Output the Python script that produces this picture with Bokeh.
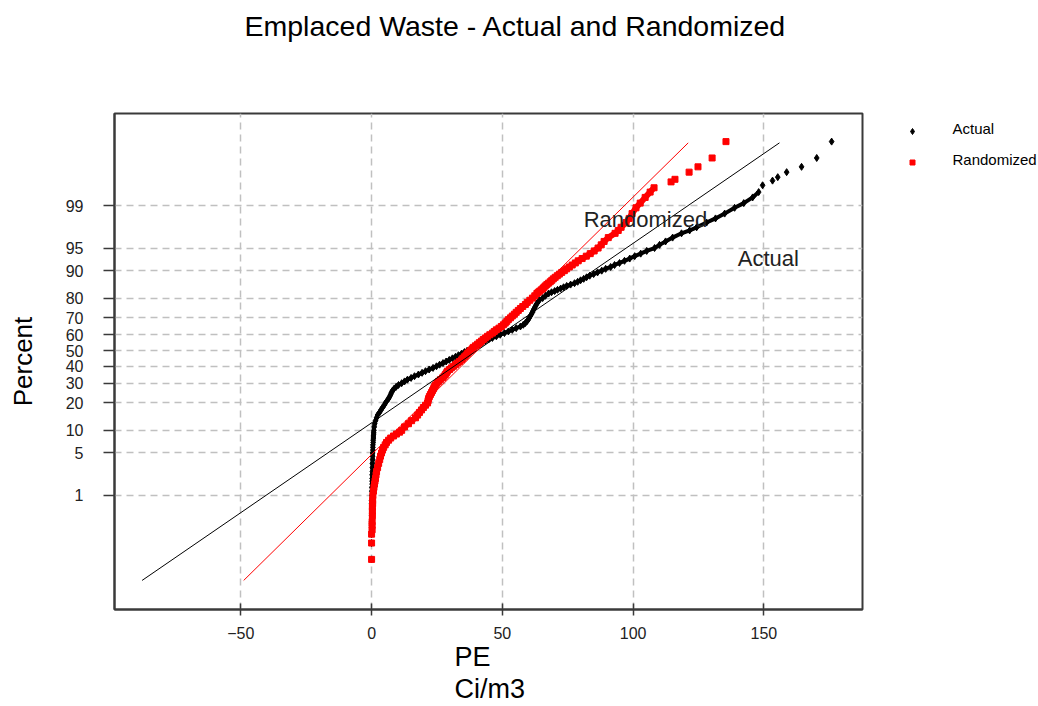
from statistics import NormalDist
from bokeh.plotting import figure
from bokeh.layouts import row
from bokeh.models import Range1d, FixedTicker, Label, Title
from bokeh.core.properties import value
from bokeh.embed import file_html
from bokeh.resources import INLINE

FONT = "Liberation Sans"

# ---------------- data ----------------
pe_ticks = [-50, 0, 50, 100, 150]
pct_ticks = [1, 5, 10, 20, 30, 40, 50, 60, 70, 80, 90, 95, 99]
series_names = ["Actual", "Randomized"]
series_colors = ["black", "#ff0000"]
series_markers = ["diamond", "square"]

actual_pct = [0.04, 0.1, 0.16, 0.2, 0.25, 0.3, 0.4, 0.5, 0.6, 0.7, 0.8,
              1, 1.2, 1.4, 1.6, 1.8, 2, 2.3, 2.6, 3, 3.5, 4, 4.5, 5, 5.5, 6, 6.5,
              7, 7.5, 8, 8.5, 9, 9.5, 10, 11, 12, 13, 14, 15, 16, 17, 18, 19, 20,
              21, 22, 23, 24, 25, 26, 27, 28, 29, 30, 31, 32, 33, 34, 35, 36, 37,
              38, 39, 40, 41, 42, 43, 44, 45, 46, 47, 48, 49, 50, 51, 52, 53, 54,
              55, 56, 57, 58, 59, 60, 61, 62, 63, 64, 65, 66, 67, 68, 69, 70, 71,
              72, 73, 74, 75, 76, 77, 78, 79, 80, 81, 82, 82.5, 83, 83.5, 84, 84.5,
              85, 85.5, 86, 86.5, 87, 87.5, 88, 88.5, 89, 89.5, 90, 90.5, 91, 91.5,
              92, 92.5, 93, 93.5, 94, 94.5, 95, 95.5, 96, 96.5, 97, 97.3, 97.6, 98,
              98.3, 98.6, 98.9, 99.1, 99.3, 99.45, 99.6, 99.68, 99.73, 99.79, 99.84,
              99.9, 99.96]
actual_pe = [0.0, 0.0, 0.0, 0.0, 0.0, 0.0, 0.0, 0.0, 0.0, 0.0, 0.0,
             0.1, 0.1, 0.1, 0.2, 0.2, 0.2, 0.2, 0.3, 0.3, 0.3, 0.4, 0.4, 0.4, 0.5, 0.5, 0.5,
             0.6, 0.6, 0.7, 0.7, 0.8, 0.8, 0.9, 1.0, 1.2, 1.5, 1.9, 2.3, 3.0, 3.6, 4.2, 4.8, 5.3,
             5.9, 6.5, 6.9, 7.3, 7.6, 8.0, 8.6, 9.4, 10.3, 11.5, 12.6, 13.7, 15.1, 16.4, 17.9, 19.3, 20.6,
             22.0, 23.5, 24.8, 26.0, 27.3, 28.5, 29.7, 30.9, 32.1, 33.2, 34.4, 35.5, 36.6, 37.8, 38.9, 40.1, 41.2,
             42.4, 43.5, 44.7, 46.2, 47.7, 49.2, 50.8, 52.3, 53.8, 55.3, 56.9, 58.0, 58.8, 59.4, 59.9, 60.3, 60.7,
             61.1, 61.5, 61.8, 62.2, 62.6, 63.0, 63.5, 64.1, 65.4, 66.5, 67.7, 68.8, 70.0, 71.1, 72.3, 73.4,
             74.6, 76.1, 77.6, 78.8, 79.9, 81.1, 82.2, 83.4, 84.9, 86.4, 88.0, 89.5, 91.4, 92.9,
             94.8, 96.7, 98.7, 100.6, 102.9, 105.2, 108.2, 110.1, 112.4, 115.1, 118.5, 121.6, 124.3, 128.1,
             131.5, 135.0, 138.8, 142.3, 145.7, 148.0, 149.5, 153.3, 155.3, 158.7, 164.4,
             170.2, 175.9]

random_pct = [0.04, 0.1, 0.16, 0.2, 0.25, 0.3, 0.4, 0.5, 0.6, 0.7, 0.8,
              1, 1.2, 1.4, 1.6, 1.8, 2, 2.3, 2.6, 3, 3.5, 4, 4.5, 5, 5.5, 6, 6.5,
              7, 7.5, 8, 8.5, 9, 9.5, 10, 11, 12, 13, 14, 15, 16, 17, 18, 19, 20,
              21, 22, 23, 24, 25, 26, 27, 28, 29, 30, 31, 32, 33, 34, 35, 36, 37,
              38, 39, 40, 41, 42, 43, 44, 45, 46, 47, 48, 49, 50, 51, 52, 53, 54,
              55, 56, 57, 58, 59, 60, 61, 62, 63, 64, 65, 66, 67, 68, 69, 70, 71,
              72, 73, 74, 75, 76, 77, 78, 79, 80, 81, 82, 82.5, 83, 83.5, 84, 84.5,
              85, 85.5, 86, 86.5, 87, 87.5, 88, 88.5, 89, 89.5, 90, 90.5, 91, 91.5,
              92, 92.5, 93, 93.5, 94, 94.5, 95, 95.5, 96, 96.5, 97, 97.3, 97.6, 98,
              98.3, 98.6, 98.9, 99.1, 99.3, 99.45, 99.55, 99.66, 99.7, 99.79, 99.84,
              99.9, 99.96]
random_pe = [0.0, 0.0, 0.0, 0.2, 0.2, 0.2, 0.3, 0.3, 0.3, 0.4, 0.4,
             0.5, 0.7, 0.9, 1.1, 1.3, 1.5, 1.7, 1.9, 2.3, 2.7, 3.1, 3.4, 3.8, 4.2, 4.6, 5.2,
             5.7, 6.5, 7.3, 8.4, 9.5, 10.7, 11.5, 12.6, 14.1, 15.3, 16.8, 17.6, 18.3, 19.1, 19.8, 20.6, 21.4,
             21.6, 21.8, 22.1, 22.5, 22.9, 23.3, 23.7, 24.0, 24.4, 25.0, 25.6, 26.3, 27.1, 27.7, 28.2, 28.6, 29.0,
             29.8, 30.5, 31.3, 32.1, 32.8, 33.6, 34.4, 34.9, 35.5, 36.1, 36.6, 37.2, 37.8, 38.4, 38.9, 39.7, 40.5,
             41.2, 42.0, 42.7, 43.5, 44.3, 45.2, 46.2, 46.9, 47.7, 48.7, 49.6, 50.4, 51.1, 51.7, 52.3, 53.1, 53.8,
             54.6, 55.3, 56.1, 56.9, 57.8, 58.8, 59.5, 60.5, 61.5, 62.4, 63.2, 63.7, 64.3, 64.9, 65.5, 65.9,
             66.4, 67.0, 67.6, 68.3, 68.9, 69.5, 70.2, 71.0, 71.8, 72.7, 73.7, 74.6, 75.6, 76.7,
             77.9, 79.0, 80.5, 82.1, 83.6, 85.1, 86.6, 87.8, 88.9, 90.5, 93.1, 94.3, 95.4, 97.3,
             98.5, 99.6, 101.1, 102.7, 104.6, 106.5, 108.0, 114.5, 116.0, 121.4, 124.8,
             130.2, 135.5]

# fitted normal lines (mean, sd) drawn over the plotted percent span
fit_mean = [40.3, 40.4]      # Actual, Randomized
fit_sd = [34.7, 24.2]
fit_pct_span = [0.0112, 99.957]

# ---------------- helpers ----------------
nd = NormalDist()


def probit(pcts):
    return [nd.inv_cdf(v / 100.0) for v in pcts]


actual_z = probit(actual_pct)
random_z = probit(random_pct)
tick_z = [round(nd.inv_cdf(t / 100.0), 6) for t in pct_ticks]
span_z = probit(fit_pct_span)

# ---------------- main plot ----------------
p = figure(width=864, height=706,
           x_range=Range1d(-98.3, 187.7), y_range=Range1d(-4.157, 3.804),
           output_backend="svg", toolbar_location=None,
           min_border_left=114, min_border_right=2,
           min_border_top=113, min_border_bottom=97)

p.background_fill_color = "white"
p.border_fill_color = "white"
p.outline_line_color = "#3a3a3a"
p.outline_line_width = 2

# title (a spacer keeps it near the top edge)
p.title.text = ""
p.add_layout(Title(text=" ", text_font_size="20px", standoff=48), "above")
p.add_layout(Title(text="Emplaced Waste - Actual and Randomized",
                   align="left", offset=130, standoff=0,
                   text_font=FONT, text_font_size="28.5px",
                   text_font_style="normal", text_color="black"), "above")

# axes
xa = p.xaxis[0]
xa.ticker = FixedTicker(ticks=pe_ticks)
xa.major_tick_in = 6
xa.major_tick_out = 6
xa.minor_tick_line_color = None
xa.major_tick_line_color = "#3a3a3a"
xa.major_tick_line_width = 1.5
xa.axis_line_color = "#3a3a3a"
xa.axis_line_width = 2
xa.major_label_standoff = 11
xa.major_label_text_font = FONT
xa.major_label_text_font_size = "16px"
xa.major_label_text_color = "#222222"

ya = p.yaxis[0]
ya.ticker = FixedTicker(ticks=tick_z)
ya.major_label_overrides = {z: str(t) for z, t in zip(tick_z, pct_ticks)}
ya.major_tick_in = 0
ya.major_tick_out = 11
ya.minor_tick_line_color = None
ya.major_tick_line_color = "#3a3a3a"
ya.major_tick_line_width = 1.5
ya.axis_line_color = "#3a3a3a"
ya.axis_line_width = 2
ya.major_label_standoff = 20
ya.major_label_text_font = FONT
ya.major_label_text_font_size = "16px"
ya.major_label_text_color = "#222222"
ya.axis_label = "Percent"
ya.axis_label_text_font = FONT
ya.axis_label_text_font_size = "26px"
ya.axis_label_text_font_style = "normal"
ya.axis_label_text_color = "black"
ya.axis_label_standoff = 25

# x-axis label, two left-aligned lines under the axis
p.add_layout(Title(text="PE", align="left", offset=340, vertical_align="top",
                   standoff=0, text_font=FONT, text_font_size="27px",
                   text_font_style="normal", text_color="black"), "below")
p.add_layout(Title(text="Ci/m3", align="left", offset=340, vertical_align="top",
                   standoff=0, text_font=FONT, text_font_size="27px",
                   text_font_style="normal", text_color="black"), "below")

for g in (p.xgrid[0], p.ygrid[0]):
    g.grid_line_color = "#c0c0c0"
    g.grid_line_dash = "7 5"
    g.grid_line_width = 1.5

# dense part of each cloud drawn as a band, plus every point as a marker
a_idx = [i for i, v in enumerate(actual_pct) if 0.2 <= v <= 99.45]
r_idx = [i for i, v in enumerate(random_pct) if 0.2 <= v <= 99.55]

p.line([actual_pe[i] for i in a_idx], [actual_z[i] for i in a_idx],
       line_color=series_colors[0], line_width=4)
p.scatter(actual_pe, actual_z, marker=series_markers[0], size=7,
          fill_color=series_colors[0], line_color=series_colors[0])

p.line([random_pe[i] for i in r_idx], [random_z[i] for i in r_idx],
       line_color=series_colors[1], line_width=6)
p.scatter(random_pe, random_z, marker=series_markers[1], size=6,
          fill_color=series_colors[1], line_color=series_colors[1])

# fitted lines
for m, s, c in zip(fit_mean, fit_sd, series_colors):
    p.line([m + s * z for z in span_z], span_z, line_color=c, line_width=1)

# in-plot annotations
p.add_layout(Label(x=81.1, y=2.103, text="Randomized", text_font=FONT,
                   text_font_size="22px", text_color="#222222",
                   text_baseline="alphabetic"))
p.add_layout(Label(x=140.0, y=1.477, text="Actual", text_font=FONT,
                   text_font_size="22px", text_color="#222222",
                   text_baseline="alphabetic"))

# ---------------- legend panel (right of the plot) ----------------
# the panel's frame spans page pixels x 864..1038, y 113..609, so the key is
# laid out in page pixels
q = figure(width=174, height=706, x_range=Range1d(864, 1038),
           y_range=Range1d(609, 113), output_backend="svg",
           toolbar_location=None, x_axis_location=None, y_axis_location=None,
           title_location=None, min_border_left=0, min_border_right=0,
           min_border_top=113, min_border_bottom=97)
q.outline_line_color = None
q.grid.visible = False
q.background_fill_color = "white"
q.border_fill_color = "white"

key_x, key_top, key_pitch, label_dx, label_dy = 912, 131, 31, 40, -3
for i, (name, col, mk) in enumerate(zip(series_names, series_colors, series_markers)):
    ky = key_top + i * key_pitch
    q.scatter([key_x], [ky], marker=mk, size=6 if mk == "diamond" else 5,
              fill_color=col, line_color=col)
    q.text([key_x + label_dx], [ky + label_dy], text=[name],
           text_font=value(FONT), text_font_size="15px", text_color="black",
           text_baseline="alphabetic", text_align="left")

layout = row(p, q, spacing=0)
open("out.html", "w").write(file_html(layout, INLINE))
